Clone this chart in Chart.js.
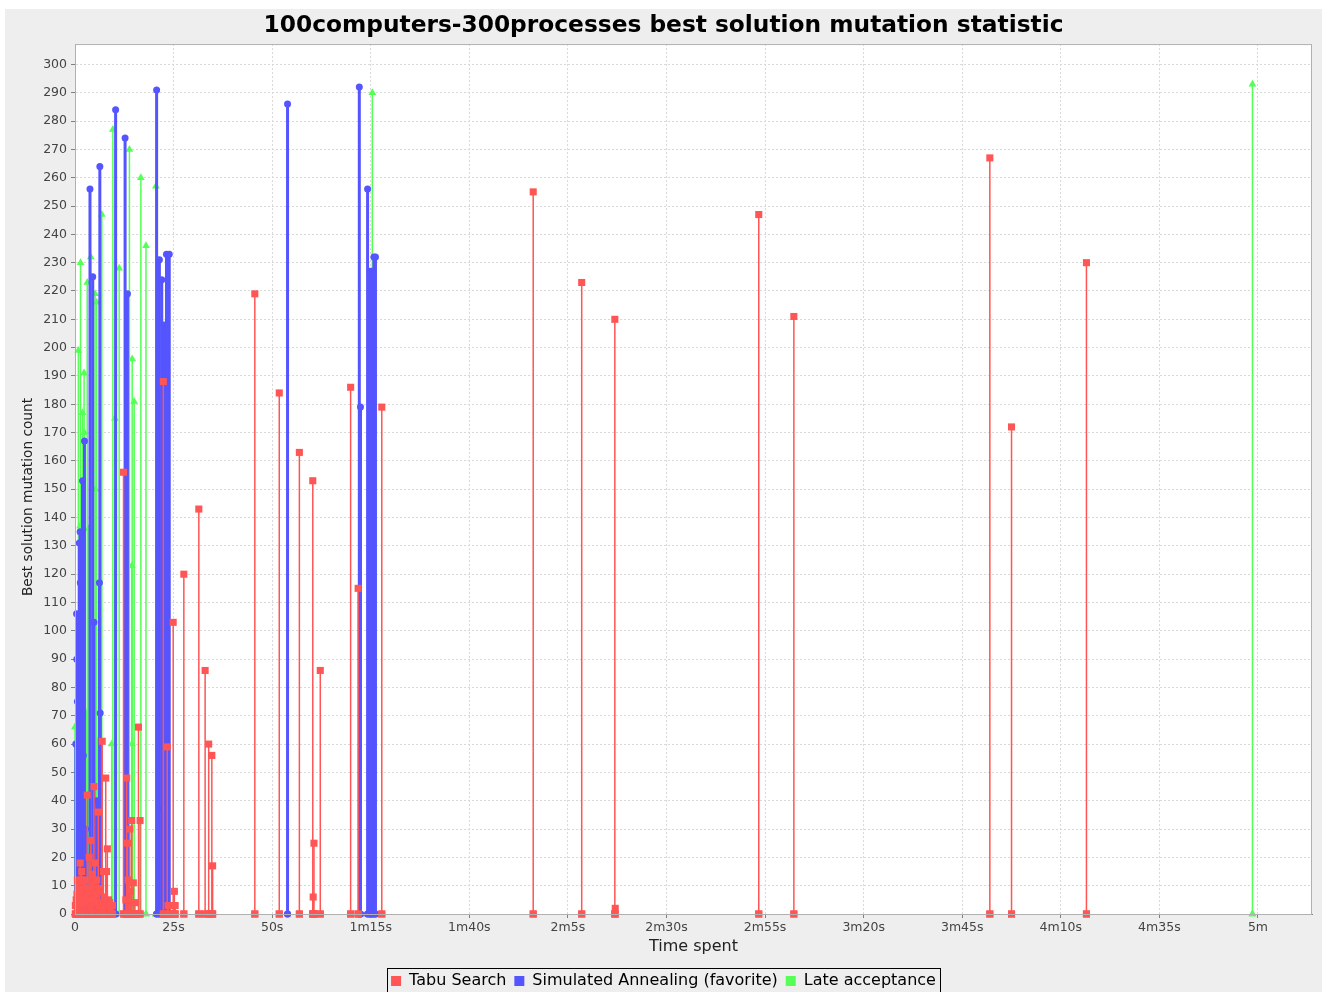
<!DOCTYPE html>
<html>
<head>
<meta charset="utf-8">
<script src="https://cdn.jsdelivr.net/npm/chart.js@4.4.1/dist/chart.umd.min.js"></script>
<style>
html, body { margin: 0; padding: 0; background: #ffffff; overflow: hidden; }
#frame { position: absolute; left: 5px; top: 9px; width: 1317px; height: 983px; background: #eeeeee; overflow: hidden; }
#chart { display: block; }
</style>
</head>
<body>
<div id="frame"><canvas id="chart" width="1317" height="990"></canvas></div>
<script>
// Time spent (seconds) / best solution mutation count, one [t, count] per event
const tabuPoints = [
  [0.1, 0], [0.1, 3], [0.1, 0],
  [0.3, 0], [0.3, 5], [0.3, 0],
  [0.5, 0], [0.5, 7], [0.5, 0],
  [0.6, 0], [0.6, 12], [0.6, 0],
  [0.8, 0], [0.8, 10], [0.8, 0],
  [1.0, 0], [1.0, 8], [1.0, 0],
  [1.1, 0], [1.1, 4], [1.1, 0],
  [1.3, 0], [1.3, 18], [1.3, 0],
  [1.5, 0], [1.5, 12], [1.5, 0],
  [1.7, 0], [1.7, 15], [1.7, 0],
  [1.9, 0], [1.9, 8], [1.9, 0],
  [2.0, 0], [2.0, 10], [2.0, 0],
  [2.2, 0], [2.2, 4], [2.2, 0],
  [2.3, 0], [2.3, 6], [2.3, 0],
  [2.6, 0], [2.6, 12], [2.6, 0],
  [2.8, 0], [2.8, 9], [2.8, 0],
  [3.1, 0], [3.1, 42], [3.1, 0],
  [3.3, 0], [3.3, 5], [3.3, 0],
  [3.4, 0], [3.4, 9], [3.4, 0],
  [3.6, 0], [3.6, 20], [3.6, 0],
  [3.8, 0], [3.8, 8], [3.8, 0],
  [4.0, 0], [4.0, 26], [4.0, 0],
  [4.2, 0], [4.2, 5], [4.2, 0],
  [4.4, 0], [4.4, 14], [4.4, 0],
  [4.6, 0], [4.6, 10], [4.6, 0],
  [4.8, 0], [4.8, 45], [4.8, 0],
  [5.1, 0], [5.1, 18], [5.1, 0],
  [5.3, 0], [5.3, 7], [5.3, 0],
  [5.5, 0], [5.5, 12], [5.5, 0],
  [5.7, 0], [5.7, 4], [5.7, 0],
  [5.9, 0], [5.9, 36], [5.9, 0],
  [6.1, 0], [6.1, 9], [6.1, 0],
  [6.3, 0], [6.3, 8], [6.3, 0],
  [6.6, 0], [6.6, 3], [6.6, 0],
  [6.9, 0], [6.9, 61], [6.9, 0],
  [7.2, 0], [7.2, 15], [7.2, 0],
  [7.5, 0], [7.5, 6], [7.5, 0],
  [7.8, 0], [7.8, 48], [7.8, 0],
  [8.0, 0], [8.0, 15], [8.0, 0],
  [8.2, 0], [8.2, 23], [8.2, 0],
  [8.5, 0], [8.5, 5], [8.5, 0],
  [8.8, 0], [8.8, 4], [8.8, 0],
  [9.0, 0], [9.0, 2], [9.0, 0],
  [9.5, 0], [9.5, 3], [9.5, 0],
  [12.3, 0], [12.3, 156], [12.3, 0],
  [12.9, 0], [12.9, 5], [12.9, 0],
  [13.1, 0], [13.1, 48], [13.1, 0],
  [13.3, 0], [13.3, 25], [13.3, 0],
  [13.5, 0], [13.5, 12], [13.5, 0],
  [13.9, 0], [13.9, 30], [13.9, 0],
  [14.1, 0], [14.1, 8], [14.1, 0],
  [14.4, 0], [14.4, 33], [14.4, 0],
  [14.8, 0], [14.8, 11], [14.8, 0],
  [15.2, 0], [15.2, 4], [15.2, 0],
  [16.1, 0], [16.1, 66], [16.1, 0],
  [16.5, 0], [16.5, 33], [16.5, 0],
  [22.4, 0], [22.4, 188], [22.4, 0],
  [23.4, 0], [23.4, 59], [23.4, 0],
  [23.6, 0], [23.6, 3], [23.6, 0],
  [24.2, 0], [24.2, 3], [24.2, 0],
  [24.9, 0], [24.9, 103], [24.9, 0],
  [25.2, 0], [25.2, 8], [25.2, 0],
  [25.4, 0], [25.4, 3], [25.4, 0],
  [27.6, 0], [27.6, 120], [27.6, 0],
  [31.4, 0], [31.4, 143], [31.4, 0],
  [33.0, 0], [33.0, 86], [33.0, 0],
  [33.9, 0], [33.9, 60], [33.9, 0],
  [34.7, 0], [34.7, 56], [34.7, 0],
  [34.9, 0], [34.9, 17], [34.9, 0],
  [45.6, 0], [45.6, 219], [45.6, 0],
  [51.8, 0], [51.8, 184], [51.8, 0],
  [56.9, 0], [56.9, 163], [56.9, 0],
  [60.3, 0], [60.3, 153], [60.3, 0],
  [60.4, 0], [60.4, 6], [60.4, 0],
  [60.6, 0], [60.6, 25], [60.6, 0],
  [62.2, 0], [62.2, 86], [62.2, 0],
  [69.9, 0], [69.9, 186], [69.9, 0],
  [71.8, 0], [71.8, 115], [71.8, 0],
  [77.8, 0], [77.8, 179], [77.8, 0],
  [116.2, 0], [116.2, 255], [116.2, 0],
  [128.5, 0], [128.5, 223], [128.5, 0],
  [136.9, 0], [136.9, 210], [136.9, 0],
  [137.0, 2], [137.0, 0],
  [173.4, 0], [173.4, 247], [173.4, 0],
  [182.3, 0], [182.3, 211], [182.3, 0],
  [232.0, 0], [232.0, 267], [232.0, 0],
  [237.5, 0], [237.5, 172], [237.5, 0],
  [256.5, 0], [256.5, 230], [256.5, 0]
];

const annealingPoints = [
  [0.2, 0], [0.2, 60], [0.2, 0],
  [0.4, 0], [0.4, 106], [0.4, 0],
  [0.45, 0], [0.45, 90], [0.45, 0],
  [0.6, 0], [0.6, 75], [0.6, 0],
  [0.8, 0], [0.8, 48], [0.8, 0],
  [1.0, 0], [1.0, 88], [1.0, 0],
  [1.1, 0], [1.1, 131], [1.1, 0],
  [1.3, 0], [1.3, 135], [1.3, 0],
  [1.35, 0], [1.35, 117], [1.35, 0],
  [1.5, 0], [1.5, 55], [1.5, 0],
  [1.7, 0], [1.7, 68], [1.7, 0],
  [1.9, 0], [1.9, 153], [1.9, 0],
  [2.1, 0], [2.1, 56], [2.1, 0],
  [2.4, 0], [2.4, 167], [2.4, 0],
  [2.7, 0], [2.7, 30], [2.7, 0],
  [3.0, 0], [3.0, 20], [3.0, 0],
  [3.8, 0], [3.8, 256], [3.8, 0],
  [4.5, 0], [4.5, 225], [4.5, 0],
  [4.8, 0], [4.8, 103], [4.8, 0],
  [5.5, 0], [5.5, 40], [5.5, 0],
  [6.2, 0], [6.2, 117], [6.2, 0],
  [6.3, 0], [6.3, 264], [6.3, 0],
  [6.4, 0], [6.4, 71], [6.4, 0],
  [10.3, 0], [10.3, 284], [10.3, 0],
  [12.7, 0], [12.7, 274], [12.7, 0],
  [13.3, 0], [13.3, 219], [13.3, 0],
  [20.7, 0], [20.7, 291], [20.7, 0],
  [21.4, 0], [21.4, 231], [21.4, 0],
  [22.0, 0], [22.0, 224], [22.0, 0],
  [22.3, 0], [22.3, 37], [22.3, 0],
  [22.6, 0], [22.6, 208], [22.6, 0],
  [23.2, 0], [23.2, 233], [23.2, 0],
  [23.9, 0], [23.9, 233], [23.9, 0],
  [53.9, 0], [53.9, 286], [53.9, 0],
  [72.1, 0], [72.1, 292], [72.1, 0],
  [72.4, 0], [72.4, 179], [72.4, 0],
  [74.2, 0], [74.2, 256], [74.2, 0],
  [74.8, 0], [74.8, 227], [74.8, 0],
  [75.2, 0], [75.2, 227], [75.2, 0],
  [75.8, 0], [75.8, 232], [75.8, 0],
  [76.2, 0], [76.2, 232], [76.2, 0]
];

const latePoints = [
  [0.0, 0], [0.0, 66], [0.0, 0],
  [0.85, 0], [0.85, 199], [0.85, 0],
  [1.3, 0], [1.3, 137], [1.3, 0],
  [1.4, 0], [1.4, 230], [1.4, 0],
  [1.9, 0], [1.9, 177], [1.9, 0],
  [2.3, 0], [2.3, 191], [2.3, 0],
  [2.4, 0], [2.4, 170], [2.4, 0],
  [3.0, 0], [3.0, 71], [3.0, 0],
  [3.1, 0], [3.1, 223], [3.1, 0],
  [3.4, 0], [3.4, 136], [3.4, 0],
  [4.0, 0], [4.0, 232], [4.0, 0],
  [5.1, 0], [5.1, 219], [5.1, 0],
  [5.2, 0], [5.2, 150], [5.2, 0],
  [5.5, 0], [5.5, 216], [5.5, 0],
  [5.6, 0], [5.6, 61], [5.6, 0],
  [6.8, 0], [6.8, 247], [6.8, 0],
  [9.3, 0], [9.3, 60], [9.3, 0],
  [9.6, 0], [9.6, 277], [9.6, 0],
  [10.1, 0], [10.1, 175], [10.1, 0],
  [11.2, 0], [11.2, 228], [11.2, 0],
  [13.8, 0], [13.8, 270], [13.8, 0],
  [14.4, 0], [14.4, 123], [14.4, 0],
  [14.45, 0], [14.45, 60], [14.45, 0],
  [14.5, 0], [14.5, 196], [14.5, 0],
  [15.0, 0], [15.0, 181], [15.0, 0],
  [16.7, 0], [16.7, 260], [16.7, 0],
  [18.0, 0], [18.0, 236], [18.0, 0],
  [20.5, 0], [20.5, 257], [20.5, 0],
  [21.4, 0], [21.4, 210], [21.4, 0],
  [75.4, 0], [75.4, 290], [75.4, 0],
  [298.6, 0], [298.6, 293], [298.6, 0]
];

const seriesNames = ['Tabu Search', 'Simulated Annealing (favorite)', 'Late acceptance'];
const seriesColors = ['#ff5555', '#5555ff', '#55ff55'];
const xTickLabels = ['0', '25s', '50s', '1m15s', '1m40s', '2m5s', '2m30s', '2m55s', '3m20s', '3m45s', '4m10s', '4m35s', '5m'];
const yAxisTitle = 'Best solution mutation count';

const FONT = "'DejaVu Sans', sans-serif";

// white plot background + grey outline like jfreechart
const plotFrame = {
    id: 'plotFrame',
    beforeDraw(chart) {
        const a = chart.chartArea;
        const ctx = chart.ctx;
        ctx.save();
        ctx.fillStyle = '#ffffff';
        ctx.fillRect(a.left, a.top, a.right - a.left, a.bottom - a.top);
        ctx.restore();
    },
    afterDraw(chart) {
        const a = chart.chartArea;
        const ctx = chart.ctx;
        ctx.save();
        ctx.strokeStyle = '#b0b0b0';
        ctx.lineWidth = 1;
        ctx.strokeRect(a.left + 0.5, a.top + 0.5, a.right - a.left - 1, a.bottom - a.top);
        // y axis label sits a bit below the plot centre in the original
        ctx.translate(23, a.top + (a.bottom - a.top) / 2 + 18);
        ctx.rotate(-Math.PI / 2);
        ctx.fillStyle = '#222222';
        ctx.font = '13.7px ' + FONT;
        ctx.textAlign = 'center';
        ctx.textBaseline = 'middle';
        ctx.fillText(yAxisTitle, 0, 0);
        ctx.restore();
    }
};

// box around the legend items
const legendBox = {
    id: 'legendBox',
    afterDraw(chart) {
        const boxes = chart.legend.legendHitBoxes;
        if (!boxes || !boxes.length) return;
        const left = Math.min(...boxes.map(b => b.left)) - 4;
        const right = Math.max(...boxes.map(b => b.left + b.width)) + 4;
        const top = boxes[0].top - 5;
        const bottom = boxes[0].top + boxes[0].height + 5;
        const ctx = chart.ctx;
        ctx.save();
        ctx.strokeStyle = '#000000';
        ctx.lineWidth = 1;
        ctx.strokeRect(Math.round(left) + 0.5, Math.round(top) + 0.5, Math.round(right - left), Math.round(bottom - top));
        ctx.restore();
    }
};

// no line along the zero baseline between two events
const hideBaseline = {
    borderColor: (c) => (c.p0.parsed.y === 0 && c.p1.parsed.y === 0) ? 'rgba(0,0,0,0)' : undefined
};

const ctx = document.getElementById('chart').getContext('2d');

new Chart(ctx, {
    type: 'scatter',
    data: {
        datasets: [
            { label: seriesNames[0], data: tabuPoints, borderColor: seriesColors[0], backgroundColor: seriesColors[0],
              borderWidth: 1.5, pointStyle: 'rect', pointRadius: 5, pointBorderWidth: 0, showLine: true, clip: false,
              segment: hideBaseline },
            { label: seriesNames[1], data: annealingPoints, borderColor: seriesColors[1], backgroundColor: seriesColors[1],
              borderWidth: 3, pointStyle: 'circle', pointRadius: 3.5, pointBorderWidth: 0, showLine: true, clip: false,
              segment: hideBaseline },
            { label: seriesNames[2], data: latePoints, borderColor: seriesColors[2], backgroundColor: seriesColors[2],
              borderWidth: 1.5, pointStyle: 'triangle', pointRadius: 4.5, pointBorderWidth: 0, showLine: true, clip: false,
              segment: hideBaseline }
        ]
    },
    options: {
        responsive: false,
        animation: false,
        events: [],
        layout: { padding: { left: 10, right: 10, top: 0, bottom: 0 } },
        plugins: {
            title: {
                display: true,
                text: '100computers-300processes best solution mutation statistic',
                color: '#000000',
                font: { family: FONT, size: 23.3, weight: 'bold' },
                padding: { top: 3, bottom: 4.1 }
            },
            legend: {
                position: 'bottom',
                labels: {
                    color: '#000000',
                    font: { family: FONT, size: 16 },
                    boxWidth: 10,
                    boxHeight: 10,
                    padding: 8,
                    generateLabels: (chart) => chart.data.datasets.map((d, i) => ({
                        text: d.label, fillStyle: seriesColors[i], strokeStyle: seriesColors[i],
                        lineWidth: 0, datasetIndex: i, fontColor: '#000000'
                    }))
                }
            },
            tooltip: { enabled: false }
        },
        scales: {
            x: {
                type: 'linear',
                min: 0,
                max: 313.7,
                afterFit: (scale) => { scale.height = 51; },
                ticks: {
                    stepSize: 25,
                    includeBounds: false,
                    autoSkip: false,
                    maxRotation: 0,
                    padding: 2,
                    color: '#444444',
                    font: { family: FONT, size: 12.5 },
                    callback: (value, index) => xTickLabels[index]
                },
                grid: {
                    color: '#d8d8d8',
                    tickLength: 4,
                    tickColor: '#808080',
                    tickBorderDash: []
                },
                border: { display: true, color: '#808080', dash: [2, 2] },
                title: {
                    display: true,
                    text: 'Time spent',
                    color: '#222222',
                    font: { family: FONT, size: 16 },
                    padding: { top: 0, bottom: 8.4 }
                }
            },
            y: {
                type: 'linear',
                min: 0,
                max: 307.2,
                afterFit: (scale) => { scale.width = 60; },
                ticks: {
                    stepSize: 10,
                    includeBounds: false,
                    padding: 4,
                    color: '#444444',
                    font: { family: FONT, size: 12.5 }
                },
                grid: {
                    color: '#d8d8d8',
                    tickLength: 4,
                    tickColor: '#808080',
                    tickBorderDash: []
                },
                border: { display: true, color: '#808080', dash: [2, 2] },
                title: { display: false }
            }
        }
    },
    plugins: [plotFrame, legendBox]
});
</script>
</body>
</html>
